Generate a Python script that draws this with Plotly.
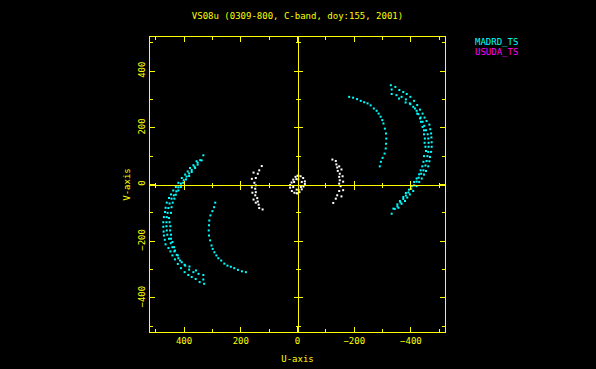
import plotly.graph_objects as go

# ---- data (one half of the uv-plane; the other half is the conjugate -u,-v) ----
# MADRD_TS baselines (cyan): long arc, three parallel tracks
madrd_a_u = [-345, -359, -373, -385, -398, -411, -422, -432, -441, -448, -455, -465, -468, -471, -472, -473,
             -473, -471, -467, -465, -461, -453, -446, -438, -429, -420, -408, -396, -387, -379, -367, -356]
madrd_a_v = [344, 333, 326, 319, 309, 295, 280, 264, 250, 236, 224, 211, 195, 180, 166, 149,
             133, 115, 97, 82, 64, 48, 35, 21, 9, -6, -23, -35, -46, -58, -68, -82]
madrd_b_u = [-332, -349, -367, -382, -396, -408, -420, -426, -434, -441, -447, -453, -459, -461, -462, -462,
             -461, -458, -455, -451, -444, -436, -427, -420, -411, -401, -391, -382, -373, -363, -352, -343]
madrd_b_v = [335, 315, 309, 300, 286, 274, 260, 248, 236, 221, 207, 191, 177, 162, 147, 133,
             115, 100, 83, 67, 50, 38, 24, 10, -3, -15, -28, -39, -51, -63, -77, -86]
madrd_c_u = [-329, -332, -358, -381, -398, -414, -422, -432, -435, -441, -446, -446, -449, -448, -451, -453,
             -446, -444, -440, -434, -429, -420, -411, -403, -393, -382, -373, -361, -352, -338, -332]
madrd_c_v = [350, 319, 303, 289, 283, 268, 250, 233, 221, 203, 191, 177, 162, 147, 133, 118,
             100, 80, 64, 50, 36, 21, 9, -6, -18, -30, -44, -58, -70, -85, -103]
# MADRD_TS short arc
madrd_d_u = [-182, -196, -210, -223, -235, -247, -258, -269, -279, -286, -293, -299, -303, -308, -312, -313,
             -312, -311, -307, -300, -294, -290]
madrd_d_v = [309, 306, 301, 295, 290, 286, 279, 268, 260, 250, 239, 227, 215, 197, 180, 162,
             144, 127, 109, 94, 80, 64]

# other baselines (white)
white_arc_u = [-123, -135, -137, -147, -140, -155, -142, -149, -147, -159, -149, -161, -147, -152, -161, -147,
               -140, -155, -135, -126]
white_arc_v = [88, 83, 71, 64, 60, 53, 48, 38, 27, 29, 15, 10, 3, -6, -20, -23, -38, -42, -50, -65]
white_ring_u = [-3, -11, -20, -26, -26, -21, -15, -7, 0, -3, -15, -12, -4]
white_ring_v = [31, 29, 23, 11, 2, -7, -17, -27, -31, 18, 9, -9, -19]

tick_vals = [400, 200, 0, -200, -400]
tick_text = ["400", "200", "0", "\u2212200", "\u2212400"]
minor_vals = [500, 300, 100, -100, -300, -500]
axis_range = [520, -520]

title_text = "VS08u (0309-800, C-band, doy:155, 2001)"
legend_names = ["MADRD_TS", "USUDA_TS"]
legend_colors = ["#00ffff", "#ff00ff"]

YEL = "#ffff00"
FONT = "DejaVu Sans Mono"


def with_conjugate(u, v):
    return list(u) + [-x for x in u], list(v) + [-y for y in v]


cu = madrd_a_u + madrd_b_u + madrd_c_u + madrd_d_u
cv = madrd_a_v + madrd_b_v + madrd_c_v + madrd_d_v
cu, cv = with_conjugate(cu, cv)
wu, wv = with_conjugate(white_arc_u + white_ring_u, white_arc_v + white_ring_v)

fig = go.Figure()
# empty traces that attach the zero-line axes to the plot so that they are drawn
for xa_id, ya_id in [("x2", "y"), ("x3", "y"), ("x", "y2"), ("x", "y3")]:
    fig.add_trace(go.Scatter(x=[None], y=[None], xaxis=xa_id, yaxis=ya_id, mode="markers",
                             showlegend=False, hoverinfo="skip"))
fig.add_trace(go.Scatter(x=cu, y=cv, mode="markers", name="MADRD_TS", showlegend=False,
                         marker=dict(symbol="square", size=2, color="#00ffff", line_width=0)))
fig.add_trace(go.Scatter(x=wu, y=wv, mode="markers", name="other", showlegend=False,
                         marker=dict(symbol="square", size=2, color="#ffffff", line_width=0)))

frame = dict(range=axis_range, showgrid=False, zeroline=False, showline=True, linecolor=YEL, linewidth=1,
             mirror="ticks", ticks="inside", ticklen=5, tickcolor=YEL, tickwidth=1,
             tickvals=tick_vals, ticktext=tick_text, automargin=False,
             tickfont=dict(family=FONT, size=9, color=YEL),
             minor=dict(tickvals=minor_vals, ticks="inside", ticklen=3, tickcolor=YEL, tickwidth=1),
             fixedrange=True)

xa = dict(frame)
xa.update(title=dict(text="U-axis", font=dict(family=FONT, size=9, color=YEL), standoff=10))
ya = dict(frame)
ya.update(range=[-520, 520], tickangle=-90,
          title=dict(text="V-axis", font=dict(family=FONT, size=9, color=YEL), standoff=5))


def zero_axis(rng, side_ticks, over):
    return dict(range=rng, overlaying=over, anchor="free", position=0.5, showgrid=False, zeroline=False,
                showline=True, linecolor=YEL, linewidth=1, ticks=side_ticks, ticklen=4, tickcolor=YEL,
                tickwidth=1, tickvals=[400, 200, -200, -400], showticklabels=False, layer="above traces",
                automargin=False,
                minor=dict(tickvals=minor_vals, ticks=side_ticks, ticklen=2, tickcolor=YEL, tickwidth=1),
                fixedrange=True)


fig.update_layout(
    width=596, height=369,
    margin=dict(l=150, r=151, t=37, b=37, autoexpand=False),
    paper_bgcolor="black", plot_bgcolor="rgba(0,0,0,0)",
    showlegend=False,
    title=dict(text=title_text, x=0.5, xref="paper", y=1 - 16 / 369, yref="container",
               xanchor="center", yanchor="middle", font=dict(family=FONT, size=9, color=YEL)),
    xaxis=xa, yaxis=ya,
    xaxis2=zero_axis(axis_range, "inside", "x"), xaxis3=zero_axis(axis_range, "outside", "x"),
    yaxis2=zero_axis([-520, 520], "inside", "y"), yaxis3=zero_axis([-520, 520], "outside", "y"),
)

for i, (name, col) in enumerate(zip(legend_names, legend_colors)):
    fig.add_annotation(text=name, xref="paper", yref="paper", x=(473 - 150) / 295, y=(332 - (42 + 10.5 * i)) / 295,
                       xanchor="left", yanchor="middle", showarrow=False,
                       font=dict(family=FONT, size=9, color=col))

fig.write_html("out.html", config={"displayModeBar": False},
               post_script="document.body.style.margin='0';document.body.style.background='black';")
